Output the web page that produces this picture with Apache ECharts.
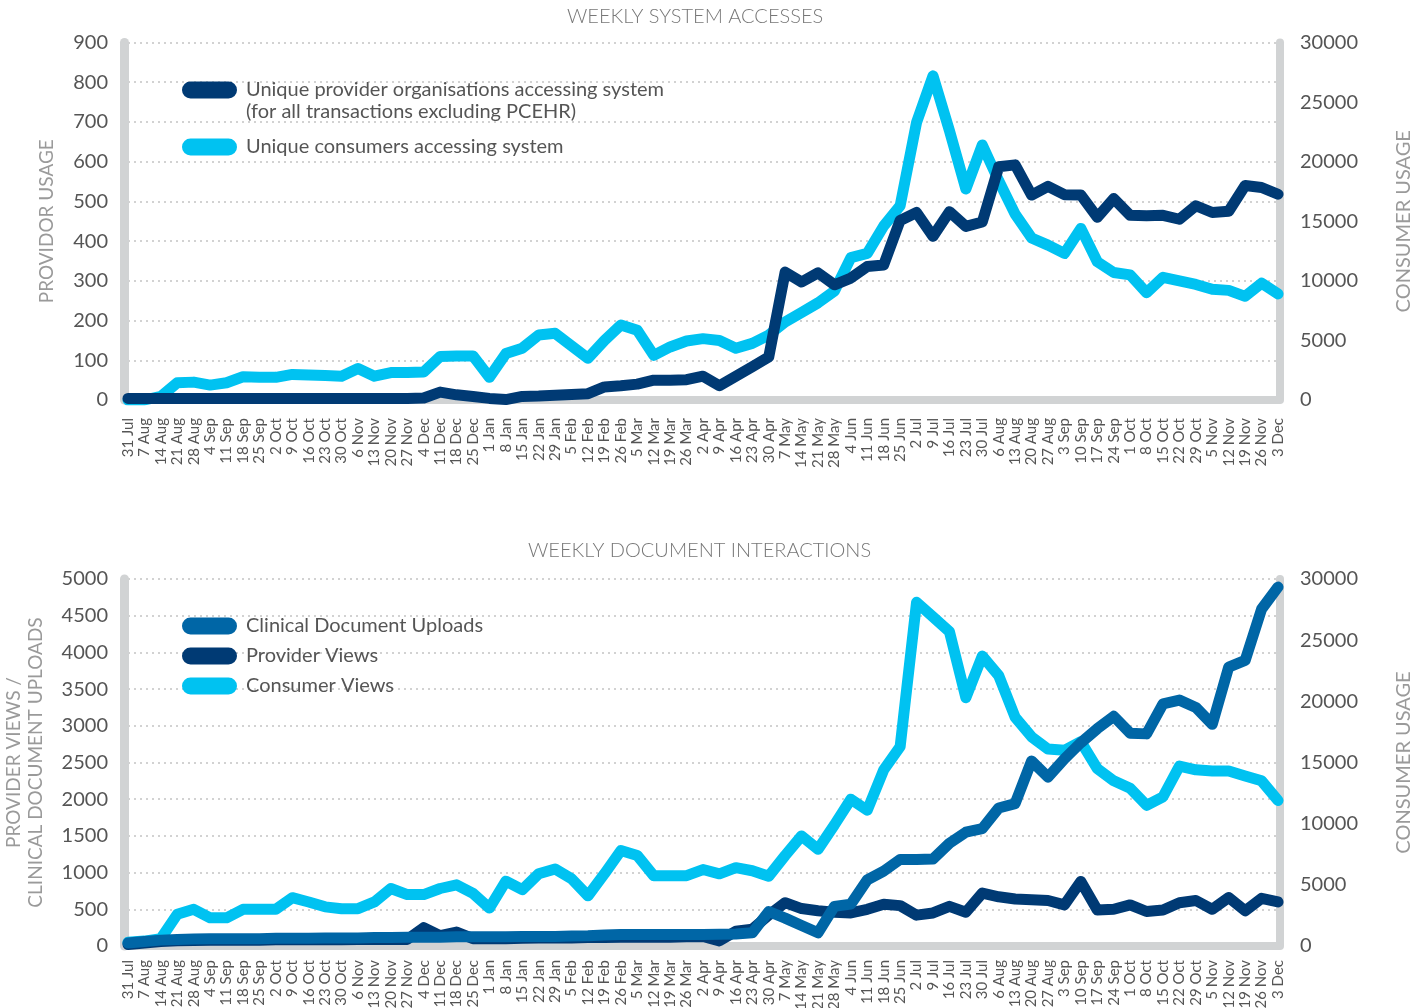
<!DOCTYPE html>
<html>
<head>
<meta charset="utf-8">
<title>Weekly system accesses and document interactions</title>
<script src="https://cdn.jsdelivr.net/npm/echarts@6/dist/echarts.min.js"></script>
<style>
  html, body { margin: 0; padding: 0; background: #fff; }
  #chart { width: 1427px; height: 1008px; }
</style>
</head>
<body>
<div id="chart"></div>
<script>
var weeks = ['31 Jul','7 Aug','14 Aug','21 Aug','28 Aug','4 Sep','11 Sep','18 Sep','25 Sep','2 Oct',
  '9 Oct','16 Oct','23 Oct','30 Oct','6 Nov','13 Nov','20 Nov','27 Nov','4 Dec','11 Dec',
  '18 Dec','25 Dec','1 Jan','8 Jan','15 Jan','22 Jan','29 Jan','5 Feb','12 Feb','19 Feb',
  '26 Feb','5 Mar','12 Mar','19 Mar','26 Mar','2 Apr','9 Apr','16 Apr','23 Apr','30 Apr',
  '7 May','14 May','21 May','28 May','4 Jun','11 Jun','18 Jun','25 Jun','2 Jul','9 Jul',
  '16 Jul','23 Jul','30 Jul','6 Aug','13 Aug','20 Aug','27 Aug','3 Sep','10 Sep','17 Sep',
  '24 Sep','1 Oct','8 Oct','15 Oct','22 Oct','29 Oct','5 Nov','12 Nov','19 Nov','26 Nov','3 Dec'];

// weekly system accesses
var providerOrgs = [4,4,4,4,4,4,4,4,4,4,
  4,4,4,4,4,4,4,4,5,20,
  13,9,4,1,9,10,12,14,16,33,
  36,40,50,50,51,60,36,60,84,108,
  322,297,320,290,307,336,340,452,472,412,
  474,437,448,587,592,516,538,517,516,460,
  507,465,464,465,455,489,472,475,540,535,518];
var consumersAccess = [0,0,300,1450,1500,1250,1450,1950,1900,1900,
  2150,2100,2050,2000,2650,2000,2300,2300,2350,3650,
  3700,3700,1900,3900,4350,5450,5600,4550,3500,5000,
  6300,5850,3750,4450,4950,5150,5000,4350,4750,5450,
  6550,7350,8150,9150,11950,12300,14600,16300,23300,27200,
  22600,17700,21400,18400,15600,13600,13000,12300,14400,11600,
  10700,10500,9000,10300,10000,9700,9300,9200,8700,9800,8900];

// weekly document interactions
var docUploads = [40,60,80,90,95,100,100,100,100,105,
  105,105,110,110,110,115,115,120,120,120,
  125,125,125,125,130,130,130,135,140,150,
  155,155,155,155,155,155,160,165,180,470,
  380,280,180,540,570,900,1020,1180,1180,1185,
  1400,1550,1600,1880,1940,2520,2300,2550,2770,2960,
  3130,2900,2890,3300,3350,3250,3020,3800,3890,4590,4890];
var providerViews = [20,40,60,70,75,80,80,80,80,85,
  85,85,85,85,90,90,90,90,250,140,
  190,100,100,100,105,110,110,110,115,115,
  120,120,120,120,125,130,70,200,230,420,
  590,510,480,460,450,500,570,550,420,450,
  540,460,720,670,640,630,620,560,880,490,
  500,560,470,490,590,620,500,660,480,650,600];
var consumerViews = [300,400,600,2600,3000,2300,2300,3000,3000,3000,
  3950,3600,3200,3050,3050,3600,4700,4200,4200,4700,
  5000,4300,3100,5300,4600,5900,6300,5500,4100,5900,
  7800,7400,5750,5750,5750,6250,5900,6400,6150,5700,
  7400,9000,7900,9900,12000,11100,14400,16300,28100,26900,
  25700,20300,23700,22100,18700,17100,16100,16000,16700,14500,
  13500,12900,11500,12200,14700,14400,14300,14300,13900,13500,11900];

var NAVY = '#003a74', CYAN = '#00c2f1', MID = '#0066a6', BAND = '#d1d3d4';
var FONT = 'Lato';
var pill = 'path://M8.5,0 H46.5 A8.5,8.5 0 0 1 46.5,17 H8.5 A8.5,8.5 0 0 1 8.5,0 Z';

function plain(v) { return String(v); }

function xAxisFor(idx, offset) {
  return {
    type: 'category', gridIndex: idx, data: weeks, boundaryGap: false, offset: offset,
    axisLine: { show: true, lineStyle: { color: BAND, width: 8 } },
    axisTick: { show: false },
    splitLine: { show: false },
    axisLabel: { interval: 0, rotate: 90, fontSize: 15, color: '#555', fontFamily: FONT, margin: 14 }
  };
}
function leftAxis(idx, max, interval, name, gap, lh) {
  return {
    type: 'value', gridIndex: idx, min: 0, max: max, interval: interval, position: 'left', offset: 4,
    name: name, nameLocation: 'middle', nameGap: gap, nameRotate: 90, nameMoveOverlap: false,
    nameTextStyle: { fontSize: 19, color: '#9a9a9a', fontFamily: FONT, lineHeight: lh },
    axisLine: { show: true, lineStyle: { color: BAND, width: 9 } },
    axisTick: { show: false },
    axisLabel: { fontSize: 20, color: '#555', fontFamily: FONT, margin: 16, formatter: plain },
    splitLine: { show: true, lineStyle: { color: '#c4c4c4', width: 1.5, type: [2, 4] } }
  };
}
function rightAxis(idx) {
  return {
    type: 'value', gridIndex: idx, min: 0, max: 30000, interval: 5000, position: 'right', offset: 2,
    name: 'CONSUMER USAGE', nameLocation: 'middle', nameGap: 115, nameRotate: 90, nameMoveOverlap: false,
    nameTextStyle: { fontSize: 20, color: '#9a9a9a', fontFamily: FONT, lineHeight: 18 },
    axisLine: { show: true, lineStyle: { color: BAND, width: 8 } },
    axisTick: { show: false },
    axisLabel: { fontSize: 20, color: '#555', fontFamily: FONT, margin: 20, formatter: plain },
    splitLine: { show: false }
  };
}
function line(name, data, color, xi, yi) {
  return {
    name: name, type: 'line', data: data, xAxisIndex: xi, yAxisIndex: yi,
    symbol: 'none', color: color, itemStyle: { color: color },
    lineStyle: { color: color, width: 11, cap: 'round', join: 'round' }
  };
}

var chart = echarts.init(document.getElementById('chart'));
var option = {
  backgroundColor: '#fff',
  animation: false,
  title: [
    { text: 'WEEKLY SYSTEM ACCESSES', left: 567, top: 7, padding: 0,
      textStyle: { fontSize: 20, fontWeight: 300, color: '#777', fontFamily: FONT } },
    { text: 'WEEKLY DOCUMENT INTERACTIONS', left: 528, top: 541, padding: 0,
      textStyle: { fontSize: 20, fontWeight: 300, color: '#777', fontFamily: FONT } }
  ],
  grid: [
    { left: 128, right: 149, top: 42.5, height: 357.5, outerBoundsMode: 'none' },
    { left: 128, right: 149, top: 579, height: 367, outerBoundsMode: 'none' }
  ],
  legend: [
    { orient: 'vertical', left: 182, top: 80, padding: 0, itemWidth: 55, itemHeight: 17, itemGap: 37,
      icon: pill, data: ['Unique provider organisations accessing system', 'Unique consumers accessing system'],
      textStyle: { fontSize: 20, color: '#555', fontFamily: FONT, lineHeight: 17, padding: [0, 0, 0, 4] } },
    { orient: 'vertical', left: 182, top: 616, padding: 0, itemWidth: 55, itemHeight: 17, itemGap: 10,
      icon: pill, data: ['Clinical Document Uploads', 'Provider Views', 'Consumer Views'],
      textStyle: { fontSize: 20, color: '#555', fontFamily: FONT, lineHeight: 17, padding: [0, 0, 0, 4] } }
  ],
  graphic: [
    { type: 'text', left: 246, top: 102,
      style: { text: '(for all transactions excluding PCEHR)', fontSize: 20, fill: '#555', fontFamily: FONT } }
  ],
  xAxis: [xAxisFor(0, 4), xAxisFor(1, 0)],
  yAxis: [
    leftAxis(0, 900, 100, 'PROVIDOR USAGE', 68, 18),
    rightAxis(0),
    leftAxis(1, 5000, 500, 'PROVIDER VIEWS /\nCLINICAL DOCUMENT UPLOADS', 77, 22),
    rightAxis(1)
  ],
  series: [
    line('Unique consumers accessing system', consumersAccess, CYAN, 0, 1),
    line('Unique provider organisations accessing system', providerOrgs, NAVY, 0, 0),
    line('Consumer Views', consumerViews, CYAN, 1, 3),
    line('Provider Views', providerViews, NAVY, 1, 2),
    line('Clinical Document Uploads', docUploads, MID, 1, 2)
  ]
};
chart.setOption(option);
</script>
</body>
</html>
